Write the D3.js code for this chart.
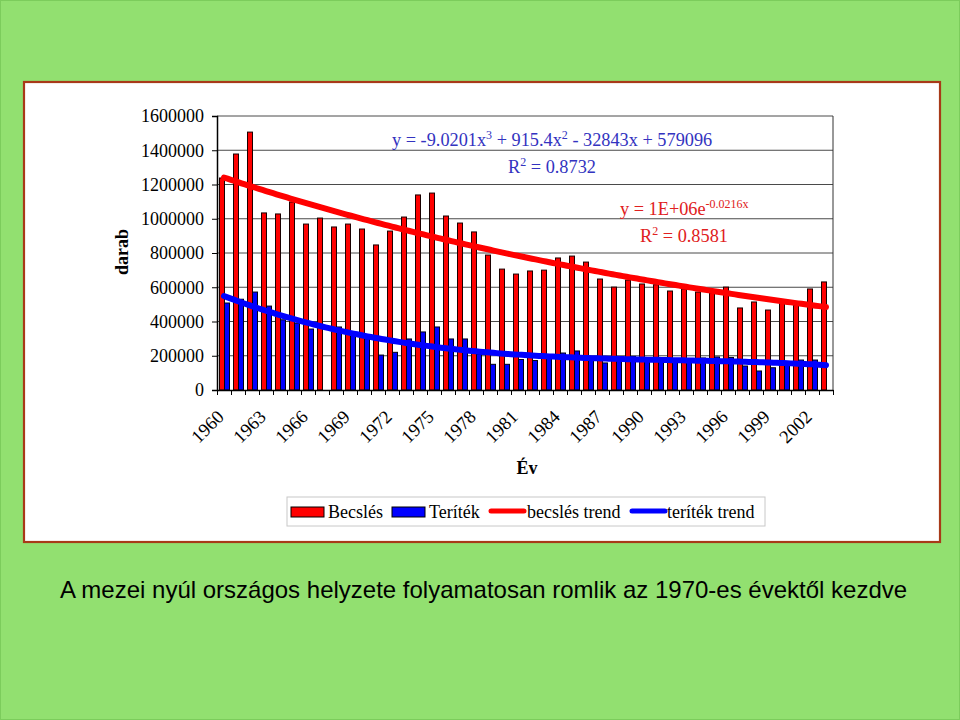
<!DOCTYPE html>
<html><head><meta charset="utf-8">
<script src="https://cdn.jsdelivr.net/npm/d3@7/dist/d3.min.js"></script>
<style>html,body{margin:0;padding:0;background:#92e070}svg{display:block}</style>
</head><body>
<svg id="c" width="960" height="720"></svg>
<script>
// ---------- DATA ----------
const years = [1960,1961,1962,1963,1964,1965,1966,1967,1968,1969,
  1970,1971,1972,1973,1974,1975,1976,1977,1978,1979,
  1980,1981,1982,1983,1984,1985,1986,1987,1988,1989,
  1990,1991,1992,1993,1994,1995,1996,1997,1998,1999,
  2000,2001,2002,2003];
const becsles = [1238000,1378000,1506000,1034000,1028000,1098000,969000,1004000,952000,969000,
  940000,847000,928000,1010000,1139000,1150000,1016000,975000,923000,788000,
  706000,677000,695000,700000,771000,782000,747000,648000,601000,642000,
  619000,615000,578000,590000,572000,568000,601000,479000,514000,467000,
  508000,496000,590000,631000];
const teritek = [508000,530000,572000,490000,410000,390000,356000,null,368000,330000,
  300000,204000,220000,298000,339000,368000,298000,298000,210000,150000,
  150000,178000,172000,185000,216000,228000,190000,158000,175000,196000,
  180000,187000,175000,175000,187000,193000,190000,140000,111000,130000,
  150000,175000,175000,null];
const yTicks = [0,200000,400000,600000,800000,1000000,1200000,1400000,1600000];
const xTickLabels = ["1960","1963","1966","1969","1972","1975","1978","1981","1984","1987","1990","1993","1996","1999","2002"];
const seriesNames = ["Becslés","Teríték","becslés trend","teríték trend"];
const eqBlue = ["y = -9.0201x","3"," + 915.4x","2"," - 32843x + 579096"];
const r2Blue = ["R","2"," = 0.8732"];
const eqRed = ["y = 1E+06e","-0.0216x"];
const r2Red = ["R","2"," = 0.8581"];
const caption = "A mezei nyúl országos helyzete folyamatosan romlik az 1970-es évektől kezdve";

// ---------- FITS (Excel-style trendlines) ----------
function solve(A, b){
  const n=b.length; A=A.map((r,i)=>r.concat([b[i]]));
  for(let i=0;i<n;i++){
    let p=i; for(let r=i+1;r<n;r++) if(Math.abs(A[r][i])>Math.abs(A[p][i])) p=r;
    [A[i],A[p]]=[A[p],A[i]];
    for(let r=0;r<n;r++){ if(r===i) continue; const f=A[r][i]/A[i][i]; for(let c=i;c<=n;c++) A[r][c]-=f*A[i][c]; }
  }
  return A.map((r,i)=>r[n]/r[i]);
}
function polyFit(xs, ys, deg){
  const m=deg+1, M=[...Array(m)].map(()=>Array(m).fill(0)), v=Array(m).fill(0);
  xs.forEach((x,k)=>{ for(let i=0;i<m;i++){ v[i]+=ys[k]*Math.pow(x,i); for(let j=0;j<m;j++) M[i][j]+=Math.pow(x,i+j);} });
  const c=solve(M,v); return x=>c.reduce((s,ci,i)=>s+ci*Math.pow(x,i),0);
}
function expFit(xs, ys){
  const f=polyFit(xs, ys.map(Math.log), 1); return x=>Math.exp(f(x));
}
const idxB = becsles.map((v,i)=>v?i+1:null).filter(v=>v!==null);
const expF = expFit(idxB, becsles.filter(v=>v));
const idxT = teritek.map((v,i)=>v?i+1:null).filter(v=>v!==null);
const polyF = polyFit(idxT, teritek.filter(v=>v), 3);

// ---------- DRAW ----------
const svg = d3.select("#c");
const serif = "'Liberation Serif','Times New Roman',serif";
svg.append("rect").attr("width",960).attr("height",720).attr("fill","#92e070");
svg.append("rect").attr("x",0.5).attr("y",0.5).attr("width",959).attr("height",719).attr("fill","none").attr("stroke","#7ccc5c");
svg.append("rect").attr("x",24).attr("y",82).attr("width",916).attr("height",460)
  .attr("fill","#fff").attr("stroke","#a83a18").attr("stroke-width",2.2);

const L=217,R=833,T=116,B=390;
const x = d3.scaleBand().domain(years).range([L,R]).padding(0);
const sub = d3.scaleBand().domain(["b","t"]).range([2.5,12.5]);
const y = d3.scaleLinear().domain([0,1600000]).range([B,T]);
const xi = d3.scaleLinear().domain([0.5, years.length+0.5]).range([L,R]);

// gridlines
svg.append("g").selectAll("line").data(yTicks.slice(1)).join("line")
  .attr("x1",L).attr("x2",R).attr("y1",d=>y(d)).attr("y2",d=>y(d))
  .attr("stroke","#4a4a4a").attr("stroke-width",1);
svg.append("line").attr("x1",R).attr("x2",R).attr("y1",T).attr("y2",B).attr("stroke","#333");

// bars
const gb = svg.append("g");
gb.selectAll("rect.b").data(years).join("rect").attr("class","b")
  .attr("x",d=>x(d)+sub("b")).attr("width",sub.bandwidth())
  .attr("y",(d,i)=>y(becsles[i])).attr("height",(d,i)=>B-y(becsles[i]))
  .attr("fill","#ff0000").attr("stroke","#1a0000").attr("stroke-width",1);
gb.selectAll("rect.t").data(years.filter((d,i)=>teritek[i])).join("rect").attr("class","t")
  .attr("x",d=>x(d)+sub("t")).attr("width",sub.bandwidth())
  .attr("y",d=>y(teritek[years.indexOf(d)])).attr("height",d=>B-y(teritek[years.indexOf(d)]))
  .attr("fill","#0000ff").attr("stroke","#000014").attr("stroke-width",1);

// axes
const ya = svg.append("g").attr("transform",`translate(${L},0)`)
  .call(d3.axisLeft(y).tickValues(yTicks).tickFormat(d3.format("d")).tickSize(5).tickPadding(8));
ya.selectAll("text").attr("font-family",serif).attr("font-size",18).attr("fill","#000");
ya.selectAll("line,path").attr("stroke","#000");
ya.select("path").attr("stroke-width",1.5);

const xa = svg.append("g").attr("transform",`translate(0,${B})`)
  .call(d3.axisBottom(xi).tickValues(d3.range(0.5, years.length+1, 1)).tickFormat("").tickSize(5).tickSizeOuter(0));
xa.selectAll("line,path").attr("stroke","#000");
xa.select("path").attr("stroke-width",1.5);

svg.append("g").selectAll("text").data(xTickLabels).join("text")
  .attr("transform",d=>`translate(${x(+d)+x.bandwidth()/2+1},${B+28}) rotate(-45)`)
  .attr("text-anchor","end").attr("font-family",serif).attr("font-size",18.5).text(d=>d);

// trend lines
const xs = d3.range(1, years.length+0.001, 0.25);
const line = d3.line().x(d=>xi(d[0])).y(d=>y(d[1]));
svg.append("path").datum(xs.map(v=>[v,expF(v)])).attr("d",line)
  .attr("fill","none").attr("stroke","#ff0000").attr("stroke-width",6).attr("stroke-linecap","round");
svg.append("path").datum(xs.map(v=>[v,polyF(v)])).attr("d",line)
  .attr("fill","none").attr("stroke","#0000ff").attr("stroke-width",6).attr("stroke-linecap","round");

// equations
function eq(parts, px, py, color){
  const t = svg.append("text").attr("x",px).attr("y",py).attr("font-family",serif).attr("font-size",18.3).attr("fill",color);
  parts.forEach((p,i)=>{
    const s=t.append("tspan").text(p);
    if(i%2===1) s.attr("font-size",12).attr("dy",-7);
    else if(i>0) s.attr("dy",7);
  });
}
eq(eqBlue, 392, 146, "#3333c0");
eq(r2Blue, 508, 173, "#3333c0");
eq(eqRed, 620, 215, "#e02020");
eq(r2Red, 640, 242, "#e02020");

// axis titles
svg.append("text").attr("x",527).attr("y",474).attr("text-anchor","middle")
  .attr("font-family",serif).attr("font-weight","bold").attr("font-size",18).text("Év");
svg.append("text").attr("transform","translate(128,252) rotate(-90)").attr("text-anchor","middle")
  .attr("font-family",serif).attr("font-weight","bold").attr("font-size",18).text("darab");

// legend
const lg = svg.append("g");
lg.append("rect").attr("x",287).attr("y",497).attr("width",478).attr("height",29).attr("fill","#fff").attr("stroke","#c8c8c8");
const lx = [291, 392, 489, 630];
const tx = [328, 429, 527, 667];
const colors = ["#ff0000","#0000ff","#ff0000","#0000ff"];
seriesNames.forEach((n,i)=>{
  if(i<2) lg.append("rect").attr("x",lx[i]).attr("y",507).attr("width",33).attr("height",10).attr("fill",colors[i]).attr("stroke","#000");
  else lg.append("line").attr("x1",lx[i]+2).attr("x2",lx[i]+35).attr("y1",511).attr("y2",511).attr("stroke",colors[i]).attr("stroke-width",5).attr("stroke-linecap","round");
  lg.append("text").attr("x",tx[i]).attr("y",518).attr("font-family",serif).attr("font-size",18).text(n);
});

// caption
svg.append("text").attr("x",60).attr("y",598).attr("font-family","'Liberation Sans',Arial,sans-serif").attr("font-size",24).text(caption);
</script>
</body></html>
